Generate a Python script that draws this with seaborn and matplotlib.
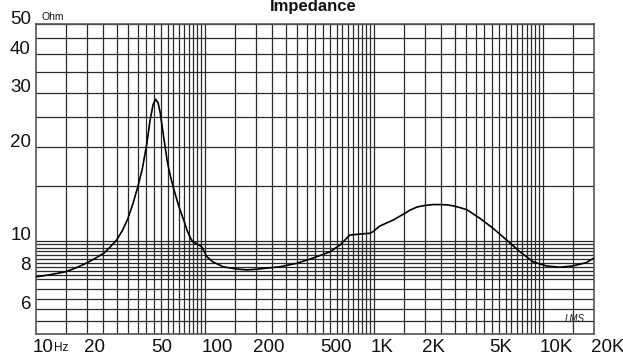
import numpy as np
import pandas as pd
import matplotlib
matplotlib.use("Agg")
import matplotlib.pyplot as plt
import matplotlib.transforms as mtransforms
import seaborn as sns

# ---- data ----
freq_hz = [10, 12, 15, 17.5, 20, 22.5, 25.3, 27.5, 30, 32.5, 35, 37.5, 40,
           42.5, 45.3, 47.2, 49.2, 50.9, 52.7, 54.2, 55.6, 59.6, 62, 64.8, 68,
           71, 75, 78.3, 82, 84.6, 90, 95.6, 102.5, 111, 128, 151, 177, 202,
           278, 348, 433, 549, 630, 688, 720, 790, 948, 987, 1082, 1298, 1500,
           1638, 1800, 2014, 2250, 2479, 2700, 2968, 3200, 3524, 4238, 5049,
           6082, 7292, 8712, 10450, 12520, 14960, 17930, 20000]
impedance_ohm = [7.64, 7.76, 7.94, 8.2, 8.48, 8.78, 9.13, 9.55, 10.05, 10.8,
                 11.8, 13.2, 14.9, 17.0, 20.6, 24.3, 27.4, 28.6, 27.9, 26.0,
                 23.6, 18.2, 16.4, 14.9, 13.6, 12.6, 11.6, 10.8, 10.2, 9.92,
                 9.75, 9.56, 8.88, 8.55, 8.24, 8.11, 8.05, 8.09, 8.24, 8.45,
                 8.78, 9.21, 9.69, 10.18, 10.43, 10.48, 10.57, 10.7, 11.15,
                 11.66, 12.2, 12.56, 12.85, 13.0, 13.08, 13.07, 13.05, 12.94,
                 12.8, 12.6, 11.8, 10.97, 10.05, 9.21, 8.55, 8.29, 8.21, 8.29,
                 8.49, 8.79]

x_tick_values = [10, 20, 50, 100, 200, 500, 1000, 2000, 5000, 10000, 20000]
x_tick_labels = ["10", "20", "50", "100", "200", "500", "1K", "2K", "5K", "10K", "20K"]
y_tick_values = [50, 40, 30, 20, 10, 8, 6]
y_tick_labels = ["50", "40", "30", "20", "10", "8", "6"]

title_text = "Impedance"
unit_y = "Ohm"
unit_x = "Hz"
logo_text = "LMS"

# grid lines
x_grid = []
for d in [10, 100, 1000]:
    x_grid += [d * m for m in np.arange(1.5, 10.01, 0.5)]
x_grid += [15000]
y_grid = list(np.arange(5.0, 7.5, 0.5)) + list(np.arange(7.5, 10.01, 0.25)) + \
    [15, 20, 25, 30, 35, 40, 45, 50]

df = pd.DataFrame({"f": freq_hz, "z": impedance_ohm})

sns.set_style("white")
plt.rcParams["font.family"] = ["Liberation Sans", "DejaVu Sans"]

W, H = 623, 356
fig = plt.figure(figsize=(W / 100, H / 100), dpi=100)
ax = fig.add_axes([36 / W, 1 - 334 / H, (594 - 36) / W, (334 - 24) / H])

ax.set_xscale("log")
ax.set_yscale("log")
ax.set_xlim(10, 20000)
ax.set_ylim(5, 50)

for xv in x_grid:
    ax.axvline(xv, color="#2a2a2a", lw=0.9, zorder=1)
for yv in y_grid:
    ax.axhline(yv, color="#2a2a2a", lw=0.9, zorder=1)

sns.lineplot(data=df, x="f", y="z", ax=ax, color="black", lw=1.2, zorder=3,
             legend=False)

ax.set_xticks([])
ax.set_yticks([])
ax.xaxis.set_minor_locator(matplotlib.ticker.NullLocator())
ax.yaxis.set_minor_locator(matplotlib.ticker.NullLocator())
ax.set_xlabel("")
ax.set_ylabel("")
for s in ax.spines.values():
    s.set_color("#555555")
    s.set_linewidth(1.2)

# x labels
xtr = mtransforms.blended_transform_factory(ax.transData, ax.transAxes)
off_x = mtransforms.ScaledTranslation(-3 / 100, -13 / 100, fig.dpi_scale_trans)
for v, lab in zip(x_tick_values, x_tick_labels):
    ax.text(v, 0, lab, transform=xtr + off_x, ha="left", va="center",
            fontsize=13.5, color="#111111")
off_hz = mtransforms.ScaledTranslation(18 / 100, -14 / 100, fig.dpi_scale_trans)
ax.text(10, 0, unit_x, transform=xtr + off_hz, ha="left", va="center",
        fontsize=8.5, color="#111111")

# y labels
ytr = mtransforms.blended_transform_factory(ax.transAxes, ax.transData)
off_y = mtransforms.ScaledTranslation(-5 / 100, 5 / 100, fig.dpi_scale_trans)
for v, lab in zip(y_tick_values, y_tick_labels):
    ax.text(0, v, lab, transform=ytr + off_y, ha="right", va="center",
            fontsize=13.5, color="#111111")

fig.text(41 / W, 1 - 17 / H, unit_y, ha="left", va="center", fontsize=7.5,
         color="#111111")
fig.text(313 / W, 1 - 11 / H, title_text, ha="center", va="baseline",
         fontsize=12, fontweight="bold", color="#111111")
fig.text(575 / W, 1 - 319 / H, logo_text, ha="center", va="center",
         fontsize=7, fontstyle="italic", color="#222222")

fig.savefig("out.png", dpi=100)
